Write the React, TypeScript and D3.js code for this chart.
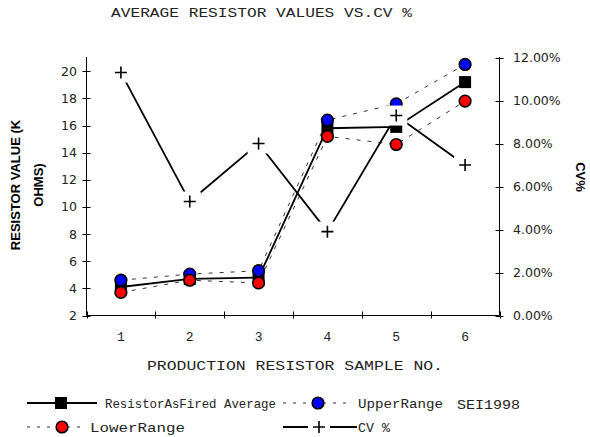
import React, { useEffect, useRef } from "react";
import * as d3 from "d3";

const categories = ["1", "2", "3", "4", "5", "6"];
const averageValues = [4.1, 4.7, 4.8, 15.8, 15.9, 19.2];
const upperValues = [4.6, 5.05, 5.3, 16.4, 17.6, 20.5];
const lowerValues = [3.7, 4.6, 4.4, 15.2, 14.6, 17.8];
const cvValues = [11.3, 5.3, 8.0, 3.9, 9.3, 7.0];
const leftTicks = [2, 4, 6, 8, 10, 12, 14, 16, 18, 20];
const rightTicks = [0, 2, 4, 6, 8, 10, 12];

const MONO = "'Liberation Mono', 'DejaVu Sans Mono', monospace";
const SANS = "'DejaVu Sans', 'Liberation Sans', sans-serif";

export default function App() {
  const ref = useRef<SVGSVGElement>(null);

  useEffect(() => {
    const svg = d3.select(ref.current);
    svg.selectAll("*").remove();

    const left = 86.5;
    const right = 499.5;
    const top = 57;
    const bottom = 315.5;

    const x = d3.scaleBand().domain(categories).range([left, right]);
    const cx = (i: number) => x(categories[i])! + x.bandwidth() / 2;
    const yL = d3.scaleLinear().domain([2, 21.05]).range([bottom, top]);
    const yR = d3.scaleLinear().domain([0, 12]).range([bottom, top + 0.5]);

    // title
    svg
      .append("text")
      .attr("x", 111)
      .attr("y", 17)
      .attr("textLength", 301)
      .attr("lengthAdjust", "spacingAndGlyphs")
      .attr("fill", "#222")
      .style("font-family", MONO)
      .style("font-size", "13px")
      .text("AVERAGE RESISTOR VALUES VS.CV %");

    // axes
    const axes = svg.append("g").attr("stroke", "#000").attr("stroke-width", 1);
    axes.append("line").attr("x1", left).attr("x2", left).attr("y1", top).attr("y2", bottom);
    axes.append("line").attr("x1", right).attr("x2", right).attr("y1", top).attr("y2", bottom);
    axes.append("line").attr("x1", left).attr("x2", right).attr("y1", bottom).attr("y2", bottom);

    axes
      .selectAll(".lt")
      .data(leftTicks)
      .join("line")
      .attr("x1", left - 4)
      .attr("x2", left + 4)
      .attr("y1", (d) => Math.round(yL(d)) + 0.5)
      .attr("y2", (d) => Math.round(yL(d)) + 0.5);
    axes
      .selectAll(".rt")
      .data(rightTicks)
      .join("line")
      .attr("x1", right - 4)
      .attr("x2", right + 4)
      .attr("y1", (d) => Math.round(yR(d)) + 0.5)
      .attr("y2", (d) => Math.round(yR(d)) + 0.5);
    const xEdges = [...categories.map((c) => x(c)!), right];
    axes
      .selectAll(".xt")
      .data(xEdges)
      .join("line")
      .attr("x1", (d) => Math.round(d) + 0.5)
      .attr("x2", (d) => Math.round(d) + 0.5)
      .attr("y1", bottom - 4)
      .attr("y2", bottom + 3);

    // tick labels
    svg
      .append("g")
      .selectAll("text")
      .data(leftTicks)
      .join("text")
      .attr("x", 77)
      .attr("y", (d) => yL(d) + 4.5)
      .attr("text-anchor", "end")
      .style("font-family", SANS)
      .style("font-size", "12.5px")
      .attr("fill", "#222")
      .text((d) => d);

    svg
      .append("g")
      .selectAll("text")
      .data(rightTicks)
      .join("text")
      .attr("x", 513)
      .attr("y", (d) => yR(d) + 4.5)
      .style("font-family", SANS)
      .style("font-size", "12.5px")
      .attr("fill", "#222")
      .text((d) => d.toFixed(2) + "%");

    svg
      .append("g")
      .selectAll("text")
      .data(categories)
      .join("text")
      .attr("x", (d, i) => cx(i))
      .attr("y", 341)
      .attr("text-anchor", "middle")
      .attr("fill", "#222")
      .style("font-family", MONO)
      .style("font-size", "13px")
      .text((d) => d);

    // axis titles
    svg
      .append("text")
      .attr("x", 147)
      .attr("y", 370)
      .attr("textLength", 296)
      .attr("lengthAdjust", "spacingAndGlyphs")
      .attr("fill", "#222")
      .style("font-family", MONO)
      .style("font-size", "13px")
      .text("PRODUCTION RESISTOR SAMPLE NO.");

    const yTitle = svg
      .append("text")
      .attr("transform", "translate(0,185) rotate(-90)")
      .attr("text-anchor", "middle")
      .style("font-family", "'Liberation Sans', Arial, sans-serif")
      .style("font-size", "13px")
      .style("font-weight", "bold");
    yTitle.append("tspan").attr("x", 0).attr("y", 20).text("RESISTOR VALUE (K");
    yTitle.append("tspan").attr("x", 0).attr("y", 43).text("OHMS)");

    svg
      .append("text")
      .attr("transform", "translate(576,177) rotate(90)")
      .attr("text-anchor", "middle")
      .style("font-family", "'Liberation Sans', Arial, sans-serif")
      .style("font-size", "13px")
      .style("font-weight", "bold")
      .text("CV%");

    // marker helpers
    const square = (g: any, px: number, py: number) =>
      g.append("rect").attr("x", px - 6).attr("y", py - 6).attr("width", 12).attr("height", 12).attr("fill", "#000");
    const circle = (g: any, px: number, py: number, fill: string) =>
      g.append("circle").attr("cx", px).attr("cy", py).attr("r", 5.8).attr("fill", fill).attr("stroke", "#000").attr("stroke-width", 1.6);
    const plus = (g: any, px: number, py: number, bg: boolean) => {
      if (bg) g.append("rect").attr("x", px - 11).attr("y", py - 10).attr("width", 22).attr("height", 20).attr("fill", "#fff");
      g.append("path")
        .attr("d", `M${px - 6},${py}H${px + 6}M${px},${py - 6}V${py + 6}`)
        .attr("stroke", "#000")
        .attr("stroke-width", 1.6);
    };

    const plot = svg.append("g");
    const lineL = (vals: number[]) =>
      d3.line<number>().x((d, i) => cx(i)).y((d) => yL(d))(vals);

    // average
    plot.append("path").attr("d", lineL(averageValues)).attr("fill", "none").attr("stroke", "#000").attr("stroke-width", 1.8);
    averageValues.forEach((v, i) => square(plot, cx(i), yL(v)));

    // upper and lower
    [upperValues, lowerValues].forEach((vals) =>
      plot.append("path").attr("d", lineL(vals)).attr("fill", "none").attr("stroke", "#333").attr("stroke-width", 1).attr("stroke-dasharray", "4,7")
    );
    upperValues.forEach((v, i) => circle(plot, cx(i), yL(v), "#0000ff"));
    lowerValues.forEach((v, i) => circle(plot, cx(i), yL(v), "#ff0000"));

    // CV
    const cvLine = d3.line<number>().x((d, i) => cx(i)).y((d) => yR(d));
    plot.append("path").attr("d", cvLine(cvValues)).attr("fill", "none").attr("stroke", "#000").attr("stroke-width", 1.8);
    cvValues.forEach((v, i) => plus(plot, cx(i), yR(v), true));

    // legend
    const lg = svg.append("g");
    const legendText = (tx: number, ty: number, w: number, s: string) =>
      lg
        .append("text")
        .attr("x", tx)
        .attr("y", ty)
        .attr("textLength", w)
        .attr("lengthAdjust", "spacingAndGlyphs")
        .attr("fill", "#222")
        .style("font-family", MONO)
        .style("font-size", "13px")
        .text(s);

    const r1 = 403;
    const r2 = 427;
    lg.append("line").attr("x1", 27).attr("x2", 97).attr("y1", r1).attr("y2", r1).attr("stroke", "#000").attr("stroke-width", 1.8);
    square(lg, 61, r1);
    legendText(105, r1 + 5, 171, "ResistorAsFired Average");

    lg.append("line").attr("x1", 283).attr("x2", 353).attr("y1", r1).attr("y2", r1).attr("stroke", "#333").attr("stroke-width", 1).attr("stroke-dasharray", "3,7");
    circle(lg, 318, r1, "#0000ff");
    legendText(358, r1 + 5, 85, "UpperRange");

    legendText(457, r1 + 6, 63, "SEI1998");

    lg.append("line").attr("x1", 27).attr("x2", 86).attr("y1", r2).attr("y2", r2).attr("stroke", "#333").attr("stroke-width", 1).attr("stroke-dasharray", "3,7");
    circle(lg, 62, r2, "#ff0000");
    legendText(90, r2 + 5, 95, "LowerRange");

    lg.append("line").attr("x1", 283).attr("x2", 357).attr("y1", r2).attr("y2", r2).attr("stroke", "#000").attr("stroke-width", 1.8);
    plus(lg, 319, r2, true);
    legendText(358, r2 + 5, 32, "CV %");
  }, []);

  return (
    <svg
      ref={ref}
      width={590}
      height={437}
      style={{ position: "absolute", left: 0, top: 0, background: "#fff" }}
    />
  );
}
